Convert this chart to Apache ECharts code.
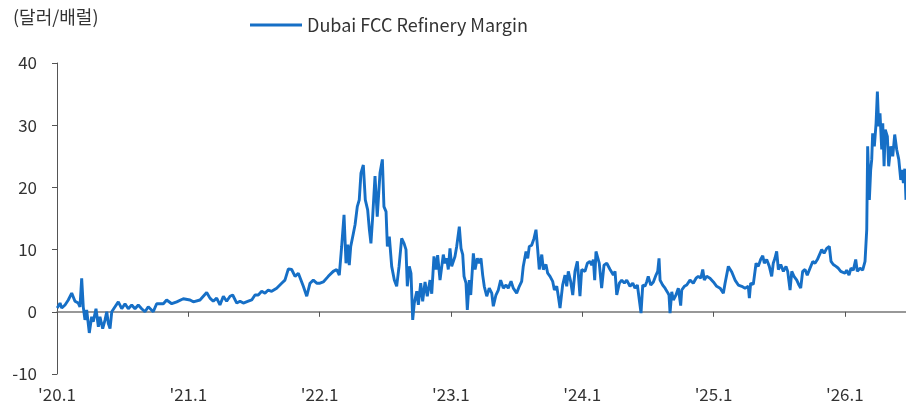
<!DOCTYPE html>
<html>
<head>
<meta charset="utf-8">
<script src="https://cdn.jsdelivr.net/npm/echarts@6/dist/echarts.min.js"></script>
<style>
  html, body { margin: 0; padding: 0; background: #fff; }
  #chart { width: 906px; height: 408px; }
</style>
</head>
<body>
<div id="chart"></div>
<script>
// years since Jan 2020
var yearPos = [
  0.002, 0.023, 0.036, 0.061, 0.086, 0.112, 0.137, 0.162, 0.175, 0.188, 0.200, 0.213, 0.226, 0.246, 0.264, 0.276,
  0.297, 0.315, 0.327, 0.348, 0.366, 0.379, 0.391, 0.404, 0.417, 0.442, 0.467, 0.493, 0.518, 0.543, 0.569, 0.594,
  0.619, 0.645, 0.670, 0.695, 0.733, 0.759, 0.810, 0.835, 0.874, 0.912, 0.962, 1.013, 1.038, 1.089,
  1.102, 1.140, 1.165, 1.190, 1.216, 1.241, 1.267, 1.292, 1.318, 1.338, 1.369, 1.394, 1.419, 1.457, 1.483, 1.508,
  1.533, 1.559, 1.584, 1.609, 1.635, 1.673, 1.711, 1.736, 1.762, 1.787, 1.813, 1.838,
  1.851, 1.876, 1.902, 1.927, 1.952, 1.978, 2.003, 2.028, 2.066, 2.104, 2.130, 2.150, 2.168, 2.186, 2.201, 2.214,
  2.226, 2.237, 2.257, 2.270, 2.287, 2.302, 2.315, 2.333, 2.348, 2.366, 2.379, 2.391, 2.404, 2.422, 2.439, 2.460,
  2.478, 2.490, 2.506, 2.516, 2.531, 2.549, 2.569, 2.587, 2.605, 2.625, 2.643, 2.658, 2.668, 2.683, 2.696, 2.709,
  2.721, 2.740, 2.752, 2.770, 2.785, 2.803, 2.820, 2.841, 2.854, 2.871, 2.887, 2.899, 2.917,
  2.942, 2.955, 2.968, 2.980, 2.993, 3.006, 3.031, 3.044, 3.064, 3.077, 3.090, 3.100, 3.115, 3.125, 3.140, 3.151,
  3.171, 3.184, 3.201, 3.216, 3.229, 3.242, 3.254, 3.273, 3.292, 3.311, 3.323, 3.343, 3.361, 3.379, 3.399, 3.420,
  3.437, 3.458, 3.475, 3.501, 3.521, 3.539, 3.551, 3.572, 3.585, 3.597, 3.615, 3.633, 3.648, 3.661, 3.673, 3.692,
  3.704, 3.724, 3.737, 3.755, 3.775, 3.788, 3.806, 3.818, 3.831, 3.851, 3.869, 3.882, 3.894, 3.912, 3.928, 3.945,
  3.963, 3.983, 3.996,
  4.021, 4.039, 4.059, 4.072, 4.085, 4.095, 4.105, 4.115, 4.130, 4.148, 4.166, 4.187, 4.212, 4.237, 4.250, 4.263,
  4.283, 4.301, 4.321, 4.339, 4.364, 4.385, 4.402, 4.420, 4.435, 4.448, 4.461, 4.478, 4.491, 4.503, 4.522, 4.542,
  4.562, 4.575, 4.585, 4.593, 4.613, 4.631, 4.648, 4.661, 4.669, 4.682, 4.694, 4.714, 4.732, 4.750, 4.758, 4.778,
  4.796, 4.821, 4.846, 4.867, 4.884, 4.903, 4.918, 4.930, 4.948, 4.973, 4.999, 5.024, 5.050,
  5.075, 5.088, 5.113, 5.139, 5.164, 5.189, 5.215, 5.240, 5.265, 5.273, 5.283, 5.303, 5.324, 5.341, 5.359, 5.375,
  5.387, 5.405, 5.425, 5.443, 5.455, 5.468, 5.481, 5.494, 5.512, 5.532, 5.552, 5.565, 5.583, 5.596, 5.613, 5.634,
  5.651, 5.664, 5.679, 5.697, 5.714, 5.735, 5.756, 5.773, 5.791, 5.806,
  5.824, 5.842, 5.862, 5.882, 5.895, 5.912, 5.933, 5.951, 5.969, 5.984, 6.001, 6.014, 6.032, 6.047, 6.065, 6.083,
  6.095, 6.116, 6.136, 6.154, 6.167, 6.174, 6.187, 6.197, 6.205, 6.212, 6.225, 6.238, 6.248, 6.258, 6.268, 6.281,
  6.289, 6.299, 6.308, 6.324, 6.334, 6.350, 6.365, 6.380, 6.395, 6.411, 6.426, 6.436, 6.446, 6.457, 6.466
];

// Dubai FCC refinery margin, $/bbl
var margin = [
  0.6, 1.4, 0.6, 1.1, 1.9, 3.0, 1.7, 1.4, 0.8, 5.4, 0.8, -1.3, 0.3, -3.4, -0.8, -1.6,
  0.5, -2.4, -0.8, -2.7, -1.3, 0.0, -1.9, -2.7, 0.0, 0.8, 1.6, 0.5, 1.3, 0.5, 1.1, 0.5,
  1.1, 0.5, 0.0, 0.8, 0.0, 1.3, 1.3, 1.9, 1.3, 1.6, 2.1, 1.9, 1.6, 1.9,
  1.7, 3.1, 2.2, 1.7, 2.2, 1.1, 2.5, 1.7, 2.5, 2.7, 1.4, 1.7, 1.4, 1.7, 1.9, 2.7,
  2.7, 3.3, 3.0, 3.5, 3.3, 3.8, 4.6, 5.1, 6.9, 6.8, 5.7, 6.2,
  5.9, 4.1, 2.5, 4.6, 5.1, 4.6, 4.6, 4.8, 5.7, 6.5, 6.8, 5.9, 10.5, 15.6, 7.8, 10.8,
  7.5, 10.5, 12.6, 14.0, 16.9, 18.0, 22.3, 23.6, 18.0, 16.4, 13.2, 11.0, 15.2, 21.8, 15.3, 22.3,
  24.5, 16.9, 16.1, 10.5, 12.1, 7.3, 5.1, 4.1, 7.3, 11.8, 11.0, 10.0, 4.1, 7.3, 6.2, -1.3,
  1.4, 3.3, 1.1, 4.6, 1.7, 4.8, 2.5, 5.1, 2.9, 8.9, 6.8, 9.1, 5.1,
  9.2, 7.8, 8.6, 6.8, 10.2, 7.3, 8.9, 10.5, 13.7, 10.2, 9.2, 5.7, 4.6, 0.3, 5.1, 2.7,
  9.4, 6.8, 8.6, 7.8, 8.6, 5.9, 4.1, 2.5, 3.8, 3.0, 0.9, 2.7, 3.5, 5.1, 3.8, 4.3,
  3.8, 4.9, 3.8, 3.0, 4.1, 4.9, 7.3, 9.7, 8.6, 10.5, 10.7, 11.8, 13.2, 10.0, 6.8, 9.2,
  6.8, 7.6, 6.2, 5.7, 4.9, 3.5, 4.1, 2.5, 0.6, 4.3, 5.9, 4.1, 6.5, 4.9, 2.7, 6.5,
  8.1, 2.5, 6.8,
  6.5, 7.8, 8.1, 7.5, 8.4, 5.1, 9.7, 9.7, 7.8, 3.8, 7.5, 7.8, 6.8, 5.9, 6.5, 2.7,
  4.6, 5.1, 4.6, 5.1, 4.1, 4.6, 3.8, 4.3, 4.1, -0.2, 4.3, 4.1, 4.8, 5.7, 4.3, 4.8,
  5.9, 6.5, 8.6, 5.1, 4.3, 3.8, 3.2, 2.7, -0.2, 3.2, 1.9, 2.7, 3.8, 1.0, 3.5, 4.1,
  4.3, 5.1, 4.6, 5.4, 5.7, 5.4, 6.8, 5.1, 5.7, 5.4, 4.8, 4.1, 3.8,
  3.0, 4.6, 7.3, 6.4, 5.1, 4.3, 4.1, 3.8, 4.1, 2.2, 4.6, 4.4, 7.8, 7.3, 8.4, 9.0,
  7.8, 8.4, 7.3, 5.7, 7.8, 8.6, 9.7, 6.8, 7.6, 6.5, 7.3, 6.5, 3.5, 6.5, 5.7, 5.1,
  4.3, 3.8, 6.5, 6.8, 5.9, 7.0, 8.1, 7.8, 8.4, 8.6,
  10.0, 9.4, 10.2, 10.5, 8.1, 7.6, 7.3, 7.0, 6.5, 6.7, 6.2, 6.7, 5.9, 7.0, 6.7, 8.4,
  6.5, 7.0, 6.7, 8.1, 13.2, 26.6, 18.0, 22.8, 24.5, 28.7, 26.6, 30.3, 35.4, 29.8, 31.9, 26.1,
  30.3, 23.4, 29.3, 28.2, 23.4, 26.6, 25.0, 28.5, 26.1, 24.5, 21.2, 22.8, 20.7, 23.0, 18.0
];

var yearLabels = ["'20.1", "'21.1", "'22.1", "'23.1", "'24.1", "'25.1", "'26.1"];

var seriesData = yearPos.map(function (x, i) { return [x, margin[i]]; });

var font = "'Noto Sans CJK KR', 'Noto Sans', sans-serif";
var chart = echarts.init(document.getElementById('chart'), null, { renderer: 'canvas' });

var xBase = {
  type: 'value',
  min: 0,
  max: 6.466,
  interval: 1,
  splitLine: { show: false }
};

var option = {
  animation: false,
  textStyle: { fontFamily: font },
  title: {
    text: '(달러/배럴)',
    left: 8,
    top: 3,
    textStyle: { fontSize: 18, fontWeight: 'normal', color: '#333', fontFamily: font }
  },
  legend: {
    left: 245,
    top: 11,
    icon: 'rect',
    itemWidth: 52,
    itemHeight: 3,
    itemGap: 6,
    textStyle: { fontSize: 18, color: '#333', fontFamily: font },
    data: ['Dubai FCC Refinery Margin']
  },
  grid: { left: 57, right: 0, top: 63, bottom: 34, outerBoundsMode: 'none' },
  xAxis: [
    Object.assign({}, xBase, {
      position: 'bottom',
      axisLine: { show: false, onZero: false },
      axisTick: { show: false },
      axisLabel: {
        margin: 12,
        fontSize: 17,
        color: '#333',
        fontFamily: font,
        showMaxLabel: false,
        formatter: function (v) {
          return Math.abs(v - Math.round(v)) < 1e-6 ? (yearLabels[Math.round(v)] || '') : '';
        }
      }
    }),
    Object.assign({}, xBase, {
      position: 'bottom',
      axisLine: { show: true, onZero: true, lineStyle: { color: '#777', width: 1.5 } },
      axisTick: { show: true, length: 5, lineStyle: { color: '#555' } },
      axisLabel: { show: false }
    })
  ],
  yAxis: {
    type: 'value',
    min: -10,
    max: 40,
    interval: 10,
    splitLine: { show: false },
    axisLine: { show: true, lineStyle: { color: '#555', width: 1 } },
    axisTick: { show: true, length: 5, lineStyle: { color: '#555' } },
    axisLabel: { fontSize: 17, color: '#333', margin: 20, fontFamily: font }
  },
  series: [{
    name: 'Dubai FCC Refinery Margin',
    type: 'line',
    xAxisIndex: 0,
    showSymbol: false,
    symbol: 'none',
    lineStyle: { color: '#166fc6', width: 2.9 },
    itemStyle: { color: '#166fc6' },
    data: seriesData
  }]
};

chart.setOption(option);
</script>
</body>
</html>
